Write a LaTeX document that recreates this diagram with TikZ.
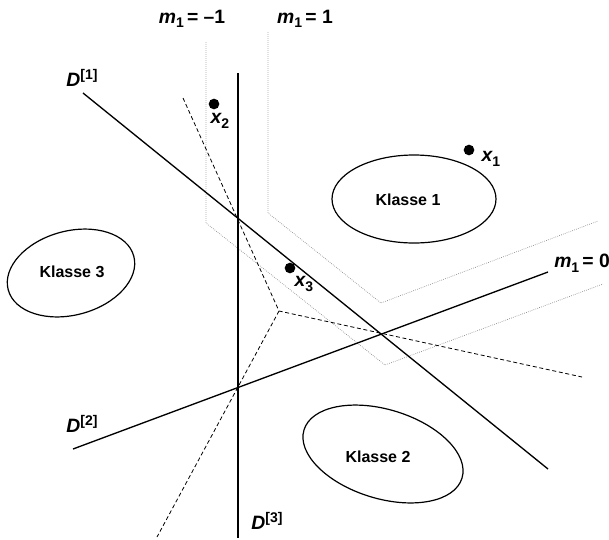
\documentclass[tikz,border=0pt]{standalone}
\usepackage{fontspec}
\setmainfont{Liberation Sans}
\usetikzlibrary{shapes.geometric}
\newcommand{\vsub}[2]{{\bfseries\itshape #1}\raisebox{-0.45ex}{\bfseries\fontsize{10.5}{10.5}\selectfont #2}}
\newcommand{\vsup}[2]{{\bfseries\itshape #1}\raisebox{0.75ex}{\bfseries\fontsize{10.5}{10.5}\selectfont #2}}
\begin{document}
\begin{tikzpicture}[x=0.75pt,y=-0.75pt,
  dline/.style={line width=1pt,black},
  bnd/.style={line width=0.6pt,black,dash pattern=on 3pt off 2pt},
  lvl/.style={densely dotted,line width=0.5pt,black!50},
  lbl/.style={font=\fontsize{14.5}{14.5}\selectfont,inner sep=0pt},
  klasse/.style={font=\bfseries\fontsize{12}{12}\selectfont,inner sep=0pt},
  cls/.style={line width=0.9pt,black},
  dot/.style={circle,fill=black,inner sep=0pt,minimum size=8pt}]
\useasboundingbox (0,0) rectangle (609,539);
% level lines (dotted)
\coordinate (a1) at (206,42); \coordinate (a2) at (206,223);
\coordinate (a3) at (385,365); \coordinate (a4) at (603,284);
\coordinate (b1) at (268,32); \coordinate (b2) at (268,213);
\coordinate (b3) at (381,303); \coordinate (b4) at (598,221);
\draw[lvl] (a1) -- (a2) -- (a3) -- (a4);
\draw[lvl] (b1) -- (b2) -- (b3) -- (b4);
% decision boundaries (dashed)
\coordinate (c) at (279,311);
\coordinate (r1) at (183,98); \coordinate (r2) at (582,377); \coordinate (r3) at (157,537);
\draw[bnd] (r1) -- (c) -- (r2);
\draw[bnd] (c) -- (r3);
% lines D
\coordinate (d1s) at (83,93); \coordinate (d1e) at (548,469);
\coordinate (d2s) at (73,449); \coordinate (d2e) at (548,272);
\coordinate (d3s) at (238,73); \coordinate (d3e) at (238,538);
\draw[dline] (d1s) -- (d1e);
\draw[dline] (d2s) -- (d2e);
\draw[dline] (d3s) -- (d3e);
% classes
\draw[cls] (414,199) ellipse [x radius=82, y radius=44];
\node[klasse] (k1) at (408,200) {Klasse 1};
\draw[cls,rotate around={-17:(383,454)}] (383,454) ellipse [x radius=82.6, y radius=44.5];
\node[klasse] (k2) at (378,457) {Klasse 2};
\draw[cls,rotate around={15:(71,273)}] (71,273) ellipse [x radius=65, y radius=42];
\node[klasse] (k3) at (72,272) {Klasse 3};
% points
\node[dot] (x1) at (469,150) {};
\node[dot] (x2) at (214,104) {};
\node[dot] (x3) at (290,268) {};
\node[lbl] (x1l) at (491,159) {\vsub{x}{1}};
\node[lbl] (x2l) at (220,121) {\vsub{x}{2}};
\node[lbl] (x3l) at (304,284) {\vsub{x}{3}};
% labels
\node[lbl] (m1) at (192,19) {\vsub{m}{1}\,\bfseries = –1};
\node[lbl] (m2) at (305,19) {\vsub{m}{1}\,\bfseries = 1};
\node[lbl,anchor=west] (m0) at (554,263) {\vsub{m}{1}\,\bfseries = 0};
\node[lbl] (D1) at (82,78) {\vsup{D}{[1]}};
\node[lbl] (D2) at (82,424) {\vsup{D}{[2]}};
\node[lbl] (D3) at (267,521) {\vsup{D}{[3]}};
\end{tikzpicture}
\end{document}
